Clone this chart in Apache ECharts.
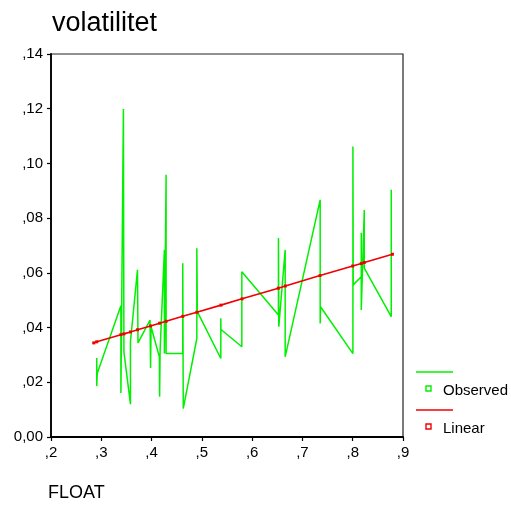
<!DOCTYPE html>
<html>
<head>
<meta charset="utf-8">
<script src="https://cdn.jsdelivr.net/npm/echarts@6/dist/echarts.min.js"></script>
<style>html,body{margin:0;padding:0;background:#fff}#c{width:511px;height:510px}</style>
</head>
<body>
<div id="c"></div>
<script>
// Observed data (FLOAT, volatilitet), in drawing order
var observedX = [0.291,0.291,0.292,0.339,0.339,0.344,0.345,0.358,0.358,0.372,0.373,0.397,0.398,0.399,0.4155,0.416,0.417,0.4255,0.4255,0.4289,0.4289,0.462,0.462,0.463,0.490,0.490,0.491,0.5377,0.5377,0.538,0.5795,0.5795,0.6523,0.6523,0.653,0.6657,0.6657,0.7353,0.7353,0.736,0.8004,0.8004,0.801,0.817,0.817,0.817,0.823,0.823,0.8766,0.8766];
var observedY = [0.0289,0.0186,0.0233,0.0480,0.0161,0.1199,0.0311,0.0120,0.0348,0.0611,0.0344,0.0427,0.0252,0.0403,0.0293,0.0147,0.0318,0.0684,0.0305,0.0959,0.0305,0.0305,0.0635,0.0104,0.0360,0.0690,0.0458,0.0287,0.0434,0.0393,0.0330,0.0604,0.0446,0.0727,0.0403,0.0684,0.0293,0.0867,0.0415,0.0476,0.0305,0.1062,0.0556,0.0586,0.0747,0.0464,0.0830,0.0617,0.0440,0.0904];
// Linear fit values
var linearX = [0.285,0.291,0.339,0.345,0.358,0.372,0.398,0.416,0.429,0.462,0.490,0.538,0.580,0.652,0.666,0.735,0.800,0.817,0.823,0.879];
var linearY = [0.0344,0.0348,0.0374,0.0377,0.0384,0.0392,0.0406,0.0416,0.0423,0.0441,0.0456,0.0482,0.0505,0.0544,0.0552,0.0590,0.0625,0.0634,0.0638,0.0668];
var xTickLabels = [',2',',3',',4',',5',',6',',7',',8',',9'];
var yTickLabels = ['0,00',',02',',04',',06',',08',',10',',12',',14'];
var seriesNames = ['Observed','Linear'];
var titleText = 'volatilitet';
var xAxisName = 'FLOAT';

var FONT = 'Liberation Sans, Arial, sans-serif';
var GREEN = '#00f000', RED = '#f00000';
function zip(a,b){var r=[];for(var i=0;i<a.length;i++)r.push([a[i],b[i]]);return r;}

var chart = echarts.init(document.getElementById('c'), null, {renderer:'canvas'});
chart.setOption({
  animation:false,
  backgroundColor:'#fff',
  title:{text:titleText,left:47,top:5,textStyle:{fontFamily:FONT,fontSize:27,fontWeight:'normal',color:'#000'}},
  grid:{left:51,right:108,top:54,bottom:73,show:true,borderColor:'#222',borderWidth:1.2,containLabel:false},
  xAxis:{type:'value',min:0.2,max:0.9,interval:0.1,
    axisLine:{show:true,onZero:false,lineStyle:{color:'#000',width:1.8}},
    axisTick:{show:true,length:4,lineStyle:{color:'#000',width:1.2}},
    splitLine:{show:false},
    axisLabel:{margin:8,fontFamily:FONT,fontSize:15,color:'#000',
      formatter:function(v){return xTickLabels[Math.round((v-0.2)/0.1)];}}},
  yAxis:{type:'value',min:0,max:0.14,interval:0.02,
    axisLine:{show:true,lineStyle:{color:'#000',width:1.8}},
    axisTick:{show:true,length:4,lineStyle:{color:'#000',width:1.2}},
    splitLine:{show:false},
    axisLabel:{margin:8,fontFamily:FONT,fontSize:15,color:'#000',padding:[5,0,0,0],
      formatter:function(v){return yTickLabels[Math.round(v/0.02)];}}},
  series:[
    {name:seriesNames[0],type:'line',data:zip(observedX,observedY),showSymbol:false,symbol:'none',
     lineStyle:{color:GREEN,width:1.5},itemStyle:{color:GREEN}},
    {name:seriesNames[1],type:'line',data:zip(linearX,linearY),symbol:'rect',symbolSize:3,showSymbol:true,
     lineStyle:{color:RED,width:1.6},itemStyle:{color:RED}}
  ],
  graphic:[
    {type:'text',left:48,top:484,style:{text:xAxisName,font:'18px '+FONT,fill:'#000'}},
    {type:'line',shape:{x1:416,y1:372,x2:453,y2:372},style:{stroke:GREEN,lineWidth:1.4}},
    {type:'rect',shape:{x:426,y:386,width:5,height:5},style:{fill:'#fff',stroke:GREEN,lineWidth:1.4}},
    {type:'text',x:443,y:391,style:{text:seriesNames[0],font:'15px '+FONT,fill:'#000',verticalAlign:'middle'}},
    {type:'line',shape:{x1:416,y1:410,x2:453,y2:410},style:{stroke:RED,lineWidth:1.4}},
    {type:'rect',shape:{x:426,y:424,width:5,height:5},style:{fill:'#fff',stroke:RED,lineWidth:1.4}},
    {type:'text',x:443,y:429,style:{text:seriesNames[1],font:'15px '+FONT,fill:'#000',verticalAlign:'middle'}}
  ]
});
</script>
</body>
</html>
